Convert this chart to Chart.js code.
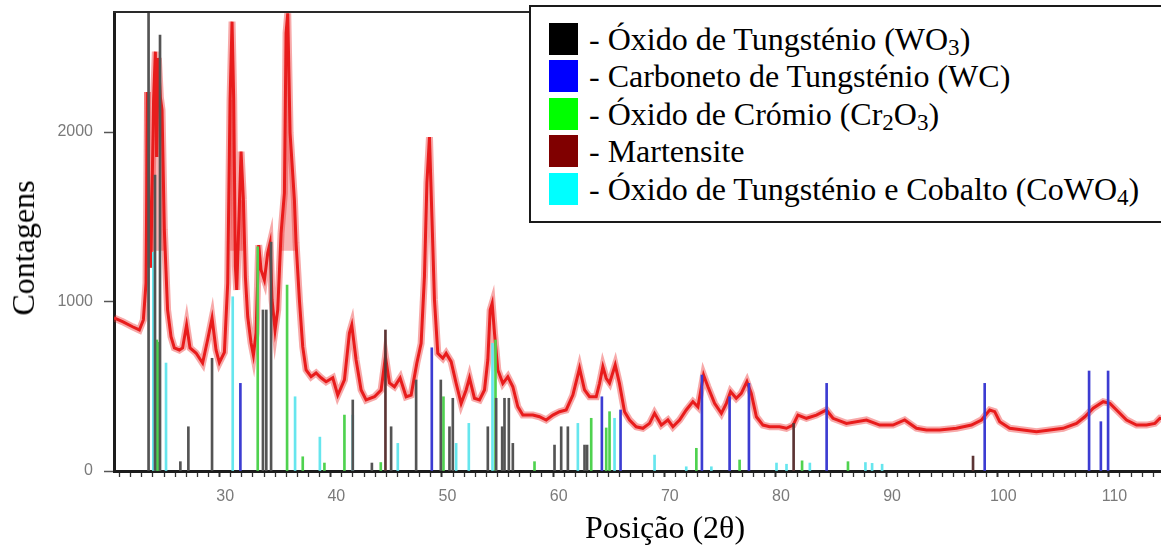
<!DOCTYPE html>
<html lang="pt">
<head>
<meta charset="utf-8">
<title>Difratograma</title>
<script src="https://cdn.jsdelivr.net/npm/chart.js@4.4.1/dist/chart.umd.min.js"></script>
<style>
  body { margin: 0; width: 1161px; height: 546px; overflow: hidden; background: #fff; position: relative;
         font-family: "Liberation Serif", "Times New Roman", serif; }
  #grafico { position: absolute; left: 0; top: 0; }
  .titulo { position: absolute; font-size: 32px; color: #000; white-space: nowrap; line-height: 1; }
  #tituloY { left: 23px; top: 248px; transform: translate(-50%, -50%) rotate(-90deg); }
  #tituloX { left: 665px; top: 527px; transform: translate(-50%, -50%); }
  #legenda { position: absolute; left: 529px; top: 5px; width: 660px; height: 214px;
             border: 2px solid #1a1a1a; background: #fff; }
  .item { position: absolute; left: 18px; height: 32px; width: 620px; }
  .cor { position: absolute; left: 0; top: 0; width: 29px; height: 32px; }
  .texto { position: absolute; left: 40px; top: 50%; transform: translateY(-50%);
           font-size: 32px; line-height: 1; white-space: nowrap; color: #000; }
  sub { font-size: 0.72em; vertical-align: -0.2em; line-height: 0; }
</style>
</head>
<body>
<canvas id="grafico" width="1170" height="546"></canvas>
<div id="tituloY" class="titulo">Contagens</div>
<div id="tituloX" class="titulo">Posição (2θ)</div>
<div id="legenda"></div>

<script>
// difratograma medido: posição 2θ (graus) e contagens
var doisTeta = [
  20.0, 20.77, 21.67, 22.28, 22.64, 22.88, 23.02, 23.18, 23.31, 23.56,
  23.72, 23.83, 23.99, 24.17, 24.32, 24.53, 24.82, 25.13, 25.43, 25.88,
  26.17, 26.53, 26.84, 27.38, 27.97, 28.42, 28.82, 29.18, 29.48, 29.93,
  30.23, 30.44, 30.62, 30.77, 30.92, 31.04, 31.43, 31.64, 31.82, 32.03,
  32.33, 32.54, 32.78, 33.02, 33.23, 33.53, 33.83, 34.04, 34.22, 34.49,
  34.73, 35.03, 35.33, 35.48, 35.63, 35.84, 36.23, 36.38, 36.68, 36.98,
  37.28, 37.73, 38.18, 38.63, 39.08, 39.68, 40.13, 40.73, 41.18, 41.39,
  41.78, 42.23, 42.68, 43.43, 44.03, 44.42, 44.78, 45.23, 45.74, 46.28,
  46.73, 47.24, 47.63, 47.93, 48.15, 48.38, 48.6, 48.83, 49.13, 49.58,
  49.88, 50.33, 50.78, 51.23, 51.68, 51.98, 52.43, 52.88, 53.33, 53.63,
  53.84, 54.02, 54.23, 54.53, 54.98, 55.43, 55.88, 56.33, 56.78, 57.68,
  58.28, 58.88, 59.48, 60.08, 60.68, 61.28, 61.88, 62.33, 62.78, 63.38,
  63.68, 63.98, 64.28, 64.58, 65.09, 65.47, 65.93, 66.38, 66.98, 67.58,
  68.18, 68.63, 69.24, 69.83, 70.28, 70.88, 71.48, 72.08, 72.53, 73.04,
  73.43, 74.03, 74.64, 75.09, 75.47, 75.98, 76.43, 76.94, 77.33, 77.79,
  78.38, 78.98, 79.88, 80.49, 81.09, 81.53, 82.29, 83.19, 84.09, 84.68,
  85.89, 87.69, 88.89, 90.08, 91.13, 92.19, 93.09, 94.28, 95.79, 97.14,
  98.04, 98.78, 99.23, 99.68, 100.58, 101.78, 102.99, 104.19, 105.38, 106.59,
  107.34, 108.09, 108.99, 109.59, 110.19, 111.09, 111.99, 112.89, 113.64, 114.09,
  115.0
];
var contagens = [
  903, 881, 851, 832, 891, 1109, 2236, 1363, 1200, 2189,
  2474, 1853, 2437, 2206, 2130, 1422, 950, 792, 726, 714,
  726, 861, 726, 696, 637, 773, 901, 714, 640, 700,
  1109, 2189, 2651, 2189, 1205, 1068, 1884, 1599, 1146, 910,
  755, 684, 814, 1333, 1186, 1127, 1286, 1345, 1009, 832,
  950, 1404, 1640, 2584, 2700, 1994, 1599, 1345, 1009, 732,
  596, 556, 578, 550, 527, 550, 448, 537, 814, 861,
  655, 478, 419, 438, 478, 674, 519, 497, 549, 438,
  448, 635, 753, 1150, 1700, 1970, 1500, 1009, 694, 665,
  694, 645, 517, 399, 478, 549, 429, 419, 478, 655,
  950, 989, 814, 596, 517, 556, 497, 379, 330, 330,
  320, 301, 330, 350, 360, 448, 606, 478, 438, 438,
  517, 615, 547, 519, 625, 517, 350, 301, 261, 252,
  281, 340, 271, 301, 261, 301, 360, 409, 379, 566,
  497, 399, 340, 399, 468, 429, 458, 527, 458, 320,
  271, 261, 261, 252, 271, 330, 311, 330, 360, 311,
  281, 301, 271, 271, 301, 252, 242, 242, 252, 271,
  301, 360, 350, 291, 252, 242, 232, 242, 252, 281,
  320, 370, 409, 399, 360, 301, 271, 271, 281, 311,
  300
];

// riscas dos padrões de referência (posição 2θ, intensidade)
var wo3Pos = [23.11, 23.69, 24.14, 25.97, 26.69, 28.82, 33.40, 33.70, 34.13, 41.48,
              43.20, 44.93, 47.18, 49.40, 50.18, 50.48, 53.63, 54.38, 54.92, 55.13,
              55.52, 55.88, 59.63, 60.23, 60.83, 62.33, 62.56];
var wo3Int = [2700, 1746, 2572, 55, 261, 665, 950, 950, 1350, 419,
              47, 261, 537, 537, 261, 429, 261, 429, 261, 429,
              429, 163, 153, 261, 261, 153, 153];

var wcPos = [31.37, 48.59, 63.89, 65.57, 72.89, 75.38, 77.12, 84.11, 98.33, 107.72, 108.78, 109.43];
var wcInt = [517, 727, 438, 360, 566, 438, 517, 517, 517, 590, 291, 590];

var cr2o3Pos = [23.85, 24.05, 32.93, 35.57, 36.98, 38.93, 40.73, 44.00, 49.64, 54.32,
                57.83, 62.93, 64.28, 64.58, 72.39, 76.28, 81.90, 86.03];
var cr2o3Int = [773, 760, 1323, 1097, 84, 47, 330, 50, 438, 773,
                55, 311, 254, 350, 134, 65, 60, 55];

var martPos = [44.42, 81.14, 97.28];
var martInt = [832, 281, 88];

var cowo4Pos = [23.54, 24.68, 30.68, 36.29, 38.52, 41.48, 45.53, 50.78, 51.92, 54.05,
                61.73, 65.03, 68.63, 71.48, 73.74, 79.60, 80.50, 82.60, 87.60, 88.20, 89.10];
var cowo4Int = [1290, 637, 1028, 438, 200, 330, 163, 163, 281, 753,
                281, 311, 94, 25, 25, 47, 40, 47, 50, 45, 40];

var rotulosX = [30, 40, 50, 60, 70, 80, 90, 100, 110];
var rotulosY = [0, 1000, 2000];

// picos mais intensos, onde o ruído enche o interior do pico
var faixasPicos = [[22.95, 24.55], [30.4, 31.7], [35.0, 36.4]];

var legendaTextos = [
  "- Óxido de Tungsténio (WO<sub>3</sub>)",
  "- Carboneto de Tungsténio (WC)",
  "- Óxido de Crómio (Cr<sub>2</sub>O<sub>3</sub>)",
  "- Martensite",
  "- Óxido de Tungsténio e Cobalto (CoWO<sub>4</sub>)"
];
var legendaCores = ["#000000", "#0000ff", "#00ff00", "#800000", "#00ffff"];

// legenda em caixa
var legenda = document.getElementById("legenda");
for (var i = 0; i < legendaTextos.length; i++) {
  var item = document.createElement("div");
  item.className = "item";
  item.style.top = (16 + i * 37.4) + "px";
  item.innerHTML = '<div class="cor" style="background:' + legendaCores[i] + '"></div>' +
                   '<div class="texto">' + legendaTextos[i] + '</div>';
  legenda.appendChild(item);
}

function riscas(pos, inten) {
  var pontos = [];
  for (var i = 0; i < pos.length; i++) {
    pontos.push({ x: pos[i], y: inten[i] });
  }
  return pontos;
}

var espectro = [];
for (var i = 0; i < doisTeta.length; i++) {
  espectro.push({ x: doisTeta[i], y: contagens[i] });
}

function barras(nome, dados, cor) {
  return {
    type: "bar",
    label: nome,
    data: dados,
    backgroundColor: cor,
    borderWidth: 0,
    barThickness: 2,
    maxBarThickness: 2,
    order: 1
  };
}

function corInteriorPico(c) {
  var x0 = c.p0.parsed.x, x1 = c.p1.parsed.x;
  for (var k = 0; k < faixasPicos.length; k++) {
    if (x0 >= faixasPicos[k][0] && x1 <= faixasPicos[k][1]) return "rgba(242, 120, 120, 0.55)";
  }
  return "rgba(0, 0, 0, 0)";
}

// linha superior da moldura
var moldura = {
  id: "moldura",
  afterDraw: function (chart) {
    var a = chart.chartArea;
    var ctx = chart.ctx;
    ctx.save();
    ctx.strokeStyle = "#2a2a2a";
    ctx.lineWidth = 2;
    ctx.beginPath();
    ctx.moveTo(a.left - 1, a.top);
    ctx.lineTo(a.right, a.top);
    ctx.stroke();
    ctx.restore();
  }
};

var fonteEixo = { family: "'Liberation Sans', Arial, sans-serif", size: 16 };

var ctx = document.getElementById("grafico").getContext("2d");
var grafico = new Chart(ctx, {
  type: "bar",
  data: {
    datasets: [
      {
        // faixa larga e clara por baixo do traço (ruído da medição)
        type: "line",
        label: "Amostra (faixa)",
        data: espectro,
        borderColor: "rgba(236, 40, 40, 0.4)",
        borderWidth: 7,
        pointRadius: 0,
        tension: 0,
        fill: { value: 1300 },
        segment: { backgroundColor: corInteriorPico },
        order: 3
      },
      {
        type: "line",
        label: "Amostra",
        data: espectro,
        borderColor: "#e81c1c",
        borderWidth: 3,
        pointRadius: 0,
        tension: 0,
        fill: false,
        order: 2
      },
      barras("WO3", riscas(wo3Pos, wo3Int), "#545454"),
      barras("Martensite", riscas(martPos, martInt), "#5c3434"),
      barras("Cr2O3", riscas(cr2o3Pos, cr2o3Int), "#4fd24f"),
      barras("CoWO4", riscas(cowo4Pos, cowo4Int), "#66e6ee"),
      barras("WC", riscas(wcPos, wcInt), "#3c3cd2")
    ]
  },
  options: {
    responsive: false,
    animation: false,
    devicePixelRatio: 1,
    layout: { padding: { top: 12, right: 0, bottom: 0, left: 0 } },
    plugins: {
      legend: { display: false },
      tooltip: { enabled: false }
    },
    scales: {
      x: {
        type: "linear",
        min: 20,
        max: 115,
        offset: false,
        stacked: true,
        z: 1,
        border: { color: "#1c1c1c", width: 3 },
        grid: {
          drawOnChartArea: false,
          tickLength: 6,
          tickColor: "#333",
          tickWidth: function (c) { return c.tick && c.tick.value % 10 === 0 ? 2 : 1.3; }
        },
        ticks: {
          autoSkip: false,
          maxRotation: 0,
          padding: 10,
          color: "#7a7a7a",
          font: fonteEixo,
          callback: function (v) { return rotulosX.indexOf(v) >= 0 ? String(v) : ""; }
        },
        // um traço por grau, rótulos só nas dezenas
        afterBuildTicks: function (s) {
          var t = [];
          for (var v = 20; v <= 115; v++) t.push({ value: v });
          s.ticks = t;
        },
        afterFit: function (s) {
          s.height = 75;
          s.paddingLeft = 0;
          s.paddingRight = 0;
        }
      },
      y: {
        min: 0,
        max: 2708,
        stacked: false,
        z: 1,
        border: { color: "#1c1c1c", width: 3 },
        grid: {
          drawOnChartArea: false,
          tickLength: 10,
          tickColor: "#555",
          tickWidth: 1.5
        },
        ticks: {
          padding: 11,
          color: "#7a7a7a",
          font: fonteEixo,
          callback: function (v) { return String(v); }
        },
        afterBuildTicks: function (s) {
          s.ticks = rotulosY.map(function (v) { return { value: v }; });
        },
        afterFit: function (s) {
          s.width = 114;
          s.paddingTop = 0;
          s.paddingBottom = 0;
        }
      }
    }
  },
  plugins: [moldura]
});
</script>
</body>
</html>
